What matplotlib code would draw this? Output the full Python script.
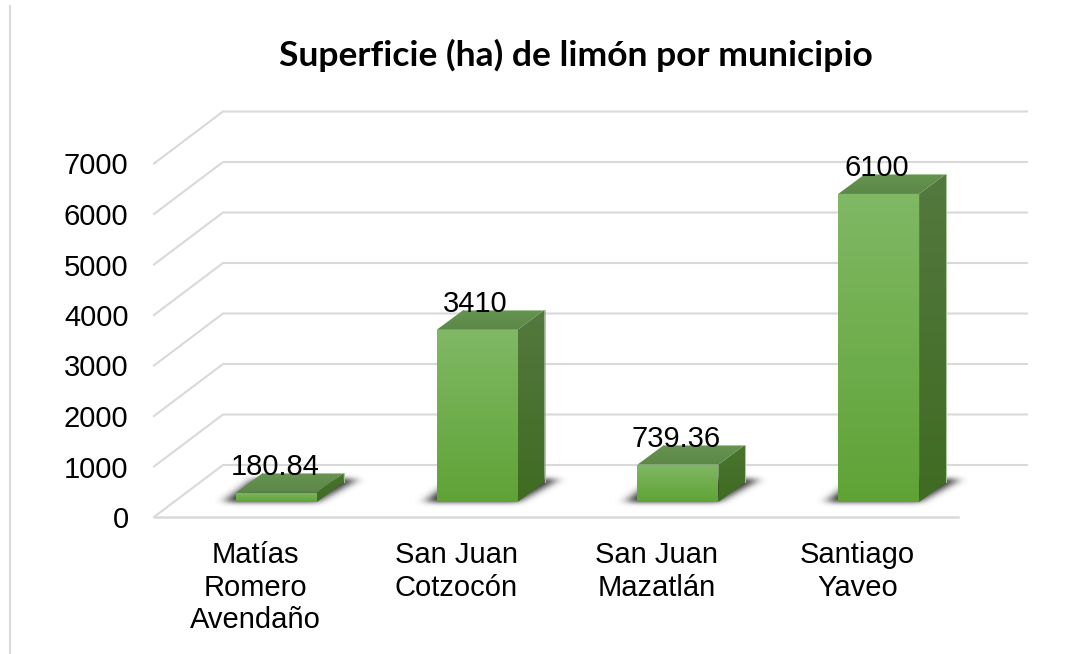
import numpy as np
import matplotlib
matplotlib.use("Agg")
import matplotlib.pyplot as plt
from matplotlib.lines import Line2D
from matplotlib.patches import Polygon
from matplotlib.path import Path
from matplotlib.transforms import Affine2D
from matplotlib.colors import LinearSegmentedColormap

plt.rcParams['font.family'] = ['Liberation Sans', 'DejaVu Sans']

title = "Superficie (ha) de limón por municipio"
categories = ["Matías\nRomero\nAvendaño", "San Juan\nCotzocón", "San Juan\nMazatlán", "Santiago\nYaveo"]
values = [180.84, 3410, 739.36, 6100]
labels = ["180.84", "3410", "739.36", "6100"]
yticks = [0, 1000, 2000, 3000, 4000, 5000, 6000, 7000]

W, H = 1092, 654
BAR_W = 0.403
GRID = "#d9d9d9"
XMIN, XMAX = -0.5, 3.5
WALL = (68, 52)      # back wall offset in pixels
FRONT = (21, 15)     # bar front plane offset in pixels
DEPTH = (27, 20)     # bar depth in pixels

fig = plt.figure(figsize=(W / 100, H / 100), dpi=100, facecolor="white")
ax = fig.add_axes([155 / W, 1 - 517 / H, (958 - 155) / W, (517 - 163.5) / H])
ax.set_facecolor("none")
for s in ax.spines.values():
    s.set_visible(False)
ax.set_xlim(XMIN, XMAX)
ax.set_ylim(0, 7000)
ax.set_autoscale_on(False)

tr_display = Affine2D()  # identity: pixel coordinates


def to_px(x, y, dx=0, dy=0):
    px = ax.transData.transform((x, y))
    return (px[0] + dx, px[1] + dy)


def gradient(poly_px, top, bottom, z):
    """Fill a polygon given in pixels with a vertical colour gradient."""
    poly_px = np.array(poly_px)
    patch = Polygon(poly_px, closed=True, transform=tr_display, facecolor="none", edgecolor="none", zorder=z)
    ax.add_patch(patch)
    cmap = LinearSegmentedColormap.from_list("g", [top, bottom])
    ext = (poly_px[:, 0].min(), poly_px[:, 0].max(), poly_px[:, 1].min(), poly_px[:, 1].max())
    im = ax.imshow(np.linspace(0, 1, 256).reshape(-1, 1), cmap=cmap, extent=ext, origin="upper",
                   aspect="auto", transform=tr_display, zorder=z, interpolation="bilinear")
    im.set_clip_path(patch)


def soft_shadow(poly_px, sigma_x, sigma_y, strength, z):
    """Blurred dark parallelogram on the floor, drawn as an RGBA image in pixel space."""
    poly_px = np.array(poly_px)
    pad = int(4 * max(sigma_x, sigma_y))
    x0, x1 = int(poly_px[:, 0].min()) - pad, int(poly_px[:, 0].max()) + pad
    y0, y1 = int(poly_px[:, 1].min()) - pad, int(poly_px[:, 1].max()) + pad
    xx, yy = np.meshgrid(np.arange(x0, x1) + 0.5, np.arange(y0, y1) + 0.5)
    mask = Path(poly_px).contains_points(np.c_[xx.ravel(), yy.ravel()]).reshape(xx.shape).astype(float)
    t = np.arange(-pad, pad + 1)
    ky = np.exp(-t ** 2 / (2 * sigma_y ** 2))
    kx = np.exp(-t ** 2 / (2 * sigma_x ** 2))
    mask = np.apply_along_axis(lambda r: np.convolve(r, ky / ky.sum(), mode="same"), 0, mask)
    mask = np.apply_along_axis(lambda r: np.convolve(r, kx / kx.sum(), mode="same"), 1, mask)
    rgba = np.zeros(mask.shape + (4,))
    rgba[..., :3] = 0.15
    rgba[..., 3] = np.clip(mask * strength, 0, 1)
    ax.imshow(rgba, extent=(x0, x1, y0, y1), origin="lower", aspect="auto",
              transform=tr_display, zorder=z, interpolation="bilinear", clip_on=False)


# gridlines on the side wall and back wall
for v in yticks:
    p0 = to_px(XMIN, v, -1, 0)
    p1 = to_px(XMIN, v, WALL[0], WALL[1])
    p2 = to_px(XMAX, v, WALL[0] + 1, WALL[1])
    ax.add_line(Line2D([p0[0], p1[0], p2[0]], [p0[1], p1[1], p2[1]], transform=tr_display,
                       color=GRID, lw=1.5, zorder=1, clip_on=False, solid_joinstyle="miter"))
ax.plot([XMIN, XMAX], [0, 0], color=GRID, lw=1.8, zorder=1, clip_on=False)

# bars
for i, v in enumerate(values):
    xl, xr = i - BAR_W / 2, i + BAR_W / 2
    bl = to_px(xl, 0, *FRONT)
    br = to_px(xr, 0, *FRONT)
    tl = to_px(xl, v, *FRONT)
    tr = to_px(xr, v, *FRONT)
    bb = (br[0] + DEPTH[0], br[1] + DEPTH[1])
    tb = (tr[0] + DEPTH[0], tr[1] + DEPTH[1])
    tbl = (tl[0] + DEPTH[0], tl[1] + DEPTH[1])

    shadow = [(bl[0] - 12, bl[1]), (br[0], br[1]),
              (bb[0] + 14, bb[1] + 3), (bl[0] + 18, bb[1] + 3)]
    soft_shadow(shadow, 5.5, 2.5, 1.0, 2)

    gradient([bl, br, tr, tl], "#80b864", "#5fa336", 3)
    gradient([br, bb, tb, tr], "#54793f" if v > 1000 else "#4a7530", "#3f6b22", 3)
    gradient([tl, tr, tb, tbl], "#669450", "#5c8748", 3)
    ax.add_line(Line2D([bb[0], tb[0], tbl[0]], [bb[1], tb[1], tbl[1]], transform=tr_display,
                       color="#a9c99a", lw=0.7, zorder=3.5))

    ax.annotate(labels[i], xy=(i, v), xytext=(19.5, 40.5), textcoords="offset pixels",
                ha="center", va="center", fontsize=21, color="black", zorder=5, annotation_clip=False)

ax.set_xticks(range(len(categories)))
ax.set_xticklabels(categories, fontsize=21, linespacing=1.2)
ax.set_yticks(yticks)
ax.set_yticklabels([str(t) for t in yticks], fontsize=21)
ax.tick_params(axis="x", length=0, pad=17.5)
ax.tick_params(axis="y", length=0, pad=19)
ax.grid(False)

fig.text(576 / W, 1 - 55 / H, title, ha="center", va="center", fontsize=25.5,
         fontweight="bold", family="Lato", color="black")
fig.add_artist(Line2D([9.5 / W, 9.5 / W], [0, 1 - 6 / H], transform=fig.transFigure, color=GRID, lw=1.5))

fig.savefig("out.png", dpi=100, facecolor="white")
